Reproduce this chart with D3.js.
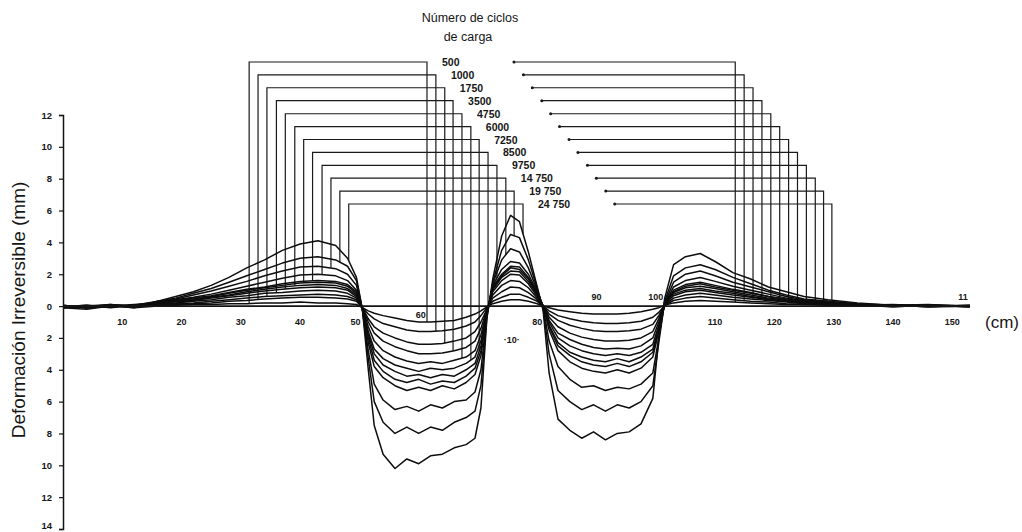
<!DOCTYPE html>
<html>
<head>
<meta charset="utf-8">
<script src="https://cdn.jsdelivr.net/npm/d3@7"></script>
<style>
  body { margin: 0; background: #fff; }
  text { font-family: "Liberation Sans", Arial, sans-serif; fill: #161616; }
  .tick-label { font-weight: bold; font-size: 9px; }
  .cycle-label { font-weight: bold; font-size: 10.5px; }
</style>
</head>
<body>
<svg id="chart" width="1022" height="532"></svg>
<script>
// number of load cycles, one profile each
const cycles = ["500", "1000", "1750", "3500", "4750", "6000", "7250", "8500", "9750", "14 750", "19 750", "24 750"];

// transverse position across the track (cm) where profiles were read
const positions = [0, 4, 8, 12, 16, 19, 22, 25, 28, 31,
  34, 37, 40, 43, 46, 48, 49.5, 50.5, 51.5, 52.5,
  54, 56, 58, 60, 62, 64, 66, 68, 69.5, 70.5,
  71.5, 72.5, 74, 75.5, 77, 78.5, 80, 81, 82, 83.5,
  85.5, 87.5, 89.5, 91.5, 93.5, 95.5, 97.5, 99.5, 100.5, 101.5,
  103, 105, 107.5, 110, 113, 116, 119, 122, 125, 129,
  134, 140, 146, 153];

// irreversible deformation (mm), + heave / - rut, one row per cycle count
const profiles = [
  // 500
  [0.0, -0.1, 0.05, -0.1, 0.0, 0.05, 0.1, 0.1, 0.15, 0.15,
   0.2, 0.2, 0.25, 0.2, 0.2, 0.15, 0.1, -0.1, -0.3, -0.45,
   -0.6, -0.75, -0.9, -1.0, -1.0, -0.95, -0.9, -0.7, -0.5, -0.3,
   -0.05, 0.15, 0.3, 0.4, 0.4, 0.3, 0.15, 0.0, -0.1, -0.25,
   -0.35, -0.45, -0.5, -0.5, -0.5, -0.45, -0.35, -0.2, -0.1, 0.05,
   0.2, 0.3, 0.35, 0.3, 0.25, 0.2, 0.15, 0.1, 0.1, 0.05,
   0.0, 0.05, -0.05, 0.0],
  // 1000
  [-0.1, 0.0, -0.05, 0.05, 0.05, 0.1, 0.15, 0.2, 0.3, 0.35,
   0.45, 0.5, 0.55, 0.55, 0.5, 0.45, 0.3, -0.1, -0.5, -0.8,
   -1.1, -1.3, -1.5, -1.6, -1.6, -1.55, -1.45, -1.25, -1.0, -0.6,
   -0.1, 0.3, 0.55, 0.75, 0.75, 0.55, 0.3, 0.0, -0.3, -0.6,
   -0.8, -0.95, -1.05, -1.1, -1.1, -1.05, -0.95, -0.7, -0.4, 0.05,
   0.35, 0.5, 0.6, 0.5, 0.4, 0.3, 0.25, 0.15, 0.1, 0.1,
   0.05, 0.0, 0.05, -0.05],
  // 1750
  [0.0, -0.1, 0.05, 0.0, 0.1, 0.15, 0.2, 0.3, 0.4, 0.5,
   0.6, 0.65, 0.7, 0.75, 0.7, 0.6, 0.4, -0.1, -0.8, -1.3,
   -1.7, -2.0, -2.25, -2.4, -2.4, -2.35, -2.2, -2.0, -1.6, -1.0,
   -0.2, 0.5, 0.9, 1.2, 1.15, 0.85, 0.4, 0.0, -0.5, -0.9,
   -1.2, -1.4, -1.55, -1.6, -1.6, -1.55, -1.45, -1.15, -0.6, 0.05,
   0.5, 0.7, 0.8, 0.7, 0.55, 0.45, 0.35, 0.25, 0.15, 0.1,
   0.05, -0.05, 0.05, 0.0],
  // 3500
  [-0.05, 0.05, -0.1, 0.05, 0.15, 0.2, 0.3, 0.4, 0.55, 0.65,
   0.8, 0.85, 0.95, 1.0, 0.95, 0.8, 0.5, -0.1, -1.0, -1.7,
   -2.2, -2.55, -2.8, -3.0, -3.0, -2.95, -2.8, -2.6, -2.2, -1.4,
   -0.2, 0.7, 1.3, 1.6, 1.55, 1.15, 0.5, 0.0, -0.7, -1.3,
   -1.7, -1.95, -2.1, -2.2, -2.2, -2.15, -2.0, -1.6, -0.8, 0.1,
   0.65, 0.9, 1.0, 0.85, 0.7, 0.55, 0.4, 0.3, 0.2, 0.15,
   0.05, 0.05, -0.05, 0.0],
  // 4750
  [0.0, -0.05, 0.05, 0.0, 0.2, 0.25, 0.35, 0.5, 0.65, 0.8,
   0.95, 1.05, 1.15, 1.2, 1.15, 1.0, 0.6, -0.1, -1.3, -2.2,
   -2.8, -3.2, -3.45, -3.6, -3.5, -3.6, -3.4, -3.2, -2.8, -1.8,
   -0.3, 0.9, 1.6, 2.0, 1.95, 1.4, 0.6, 0.0, -0.9, -1.7,
   -2.1, -2.4, -2.6, -2.7, -2.65, -2.7, -2.5, -2.0, -1.0, 0.1,
   0.75, 1.0, 1.1, 0.95, 0.8, 0.6, 0.45, 0.3, 0.2, 0.15,
   0.1, 0.0, 0.05, -0.05],
  // 6000
  [-0.1, 0.0, 0.1, -0.05, 0.2, 0.3, 0.4, 0.55, 0.7, 0.9,
   1.05, 1.2, 1.3, 1.35, 1.3, 1.1, 0.7, -0.1, -1.6, -2.7,
   -3.3, -3.7, -3.9, -4.1, -3.9, -4.0, -3.9, -3.6, -3.2, -2.2,
   -0.3, 1.0, 1.8, 2.2, 2.15, 1.55, 0.7, 0.0, -1.0, -2.0,
   -2.5, -2.8, -3.0, -3.1, -3.0, -3.1, -2.9, -2.4, -1.2, 0.1,
   0.85, 1.15, 1.25, 1.1, 0.9, 0.7, 0.5, 0.35, 0.25, 0.15,
   0.05, 0.1, 0.0, 0.05],
  // 7250
  [0.05, -0.1, 0.0, 0.1, 0.2, 0.3, 0.45, 0.6, 0.8, 1.0,
   1.15, 1.3, 1.45, 1.5, 1.45, 1.25, 0.8, -0.1, -1.8, -3.0,
   -3.7, -4.1, -4.4, -4.3, -4.5, -4.3, -4.4, -4.0, -3.6, -2.5,
   -0.4, 1.1, 1.9, 2.4, 2.3, 1.7, 0.8, 0.0, -1.2, -2.3,
   -2.9, -3.2, -3.4, -3.5, -3.3, -3.5, -3.2, -2.7, -1.4, 0.1,
   0.9, 1.25, 1.4, 1.2, 1.0, 0.8, 0.6, 0.4, 0.25, 0.2,
   0.1, -0.05, 0.05, 0.0],
  // 8500
  [-0.05, 0.05, -0.05, 0.05, 0.25, 0.35, 0.5, 0.65, 0.85, 1.05,
   1.2, 1.4, 1.55, 1.6, 1.55, 1.35, 0.9, -0.2, -2.0, -3.4,
   -4.1, -4.6, -4.8, -4.6, -4.9, -4.7, -4.8, -4.4, -3.9, -2.8,
   -0.4, 1.2, 2.0, 2.5, 2.45, 1.8, 0.85, 0.0, -1.3, -2.5,
   -3.1, -3.5, -3.7, -3.8, -3.6, -3.8, -3.5, -2.9, -1.5, 0.15,
   1.0, 1.35, 1.5, 1.3, 1.05, 0.85, 0.6, 0.45, 0.3, 0.2,
   0.05, 0.05, -0.05, 0.05],
  // 9750
  [0.0, -0.05, 0.1, 0.0, 0.25, 0.4, 0.55, 0.75, 1.0, 1.25,
   1.5, 1.75, 1.95, 2.0, 1.9, 1.6, 1.0, -0.2, -2.3, -3.8,
   -4.5, -5.0, -5.3, -5.1, -5.3, -5.0, -5.2, -4.8, -4.3, -3.1,
   -0.5, 1.3, 2.3, 2.8, 2.7, 2.0, 0.9, 0.0, -1.5, -2.8,
   -3.5, -3.9, -4.1, -4.2, -4.0, -4.2, -3.9, -3.2, -1.6, 0.15,
   1.2, 1.6, 1.8, 1.55, 1.25, 1.0, 0.75, 0.5, 0.35, 0.25,
   0.1, 0.0, 0.05, 0.0],
  // 14 750
  [-0.1, 0.0, -0.05, 0.05, 0.3, 0.45, 0.7, 0.95, 1.25, 1.55,
   1.9, 2.2, 2.45, 2.5, 2.35, 2.0, 1.3, -0.2, -2.8, -4.9,
   -5.9, -6.5, -6.3, -6.6, -6.2, -6.4, -6.0, -5.9, -5.4, -4.0,
   -0.6, 1.4, 2.9, 3.6, 3.4, 2.4, 1.0, -0.1, -2.2, -3.8,
   -4.6, -5.1, -5.0, -5.3, -5.1, -5.2, -4.9, -4.2, -2.0, 0.2,
   1.5, 2.0, 2.2, 1.9, 1.5, 1.2, 0.9, 0.6, 0.4, 0.3,
   0.1, 0.05, 0.0, -0.05],
  // 19 750
  [0.05, -0.1, 0.0, -0.05, 0.3, 0.5, 0.8, 1.1, 1.5, 1.9,
   2.3, 2.7, 3.0, 3.1, 2.9, 2.5, 1.6, -0.2, -3.3, -6.0,
   -7.3, -8.0, -7.6, -8.0, -7.6, -7.8, -7.3, -7.0, -6.6, -5.0,
   -0.7, 1.5, 3.5, 4.5, 4.3, 2.9, 1.1, -0.2, -3.0, -5.3,
   -6.0, -6.5, -6.2, -6.6, -6.2, -6.4, -6.0, -5.0, -2.3, 0.3,
   1.9, 2.4, 2.6, 2.3, 1.8, 1.4, 1.0, 0.7, 0.45, 0.3,
   0.15, 0.05, 0.05, 0.0],
  // 24 750
  [-0.1, -0.2, 0.0, -0.1, 0.3, 0.6, 0.9, 1.3, 1.8, 2.4,
   2.9, 3.5, 3.9, 4.1, 3.8, 3.0, 1.8, -0.2, -4.0, -7.5,
   -9.3, -10.2, -9.6, -9.9, -9.4, -9.3, -8.9, -8.7, -8.3, -6.4,
   -0.8, 1.7, 4.4, 5.7, 5.3, 3.4, 1.2, -0.3, -4.2, -7.1,
   -7.8, -8.3, -7.9, -8.4, -8.0, -7.9, -7.4, -5.8, -2.0, 0.5,
   2.6, 3.1, 3.3, 2.8, 2.1, 1.7, 1.2, 0.9, 0.6, 0.4,
   0.2, 0.05, 0.1, -0.05]
];

// leader lines from each label down to its profile (cm / mm)
const leaderLevel = [15.33, 14.52, 13.71, 12.9, 12.08, 11.27, 10.46, 9.65, 8.84, 8.03, 7.22, 6.41];
const leaderLeft = [31.4, 32.9, 34.4, 36.0, 37.5, 39.1, 40.6, 42.1, 43.7, 45.2, 46.7, 48.2];
const leaderMid = [61.4, 62.9, 64.4, 65.8, 67.3, 68.8, 70.2, 71.7, 73.2, 74.7, 76.1, 77.6];
const leaderStart = [75.9, 77.5, 79.0, 80.6, 82.1, 83.6, 85.2, 86.7, 88.3, 89.8, 91.4, 92.9];
const leaderRight = [113.4, 114.9, 116.4, 117.9, 119.4, 120.9, 122.4, 123.9, 125.4, 126.9, 128.3, 129.7];

// axis ticks
const yTicks = [-14, -12, -10, -8, -6, -4, -2, 0, 2, 4, 6, 8, 10, 12];
const xTicks = [10, 20, 30, 40, 50, 60, 80, 90, 100, 110, 120, 130, 140, 150];
const xTicksAbove = [90, 100]; // these two sit over the line in the original

const svg = d3.select("#chart");

const x = d3.scaleLinear().domain([0, 153]).range([63, 970]);
const y = d3.scaleLinear().domain([-14, 12]).range([529, 115]);

// reading a profile between two samples, only used to end the leader lines on the curve
function valueAt(profile, cm) {
  let i = d3.bisectLeft(positions, cm);
  if (i <= 0) return profile[0];
  if (i >= positions.length) return profile[profile.length - 1];
  let t = (cm - positions[i - 1]) / (positions[i] - positions[i - 1]);
  return profile[i - 1] + t * (profile[i] - profile[i - 1]);
}

//leaders first so curves sit on top
let leaders = svg.append("g")
  .attr("fill", "none")
  .attr("stroke", "#1a1a1a")
  .attr("stroke-width", 1.2);

cycles.forEach((c, i) => {
  let p = profiles[i];
  leaders.append("path")
    .attr("d", `M${x(leaderLeft[i])},${y(valueAt(p, leaderLeft[i]))}`
      + `V${y(leaderLevel[i])}H${x(leaderMid[i])}V${y(valueAt(p, leaderMid[i]))}`);

  leaders.append("path")
    .attr("d", `M${x(leaderStart[i])},${y(leaderLevel[i])}`
      + `H${x(leaderRight[i])}V${y(valueAt(p, leaderRight[i]))}`);

  // little arrow end on the right leader
  svg.append("circle")
    .attr("cx", x(leaderStart[i]) + 1)
    .attr("cy", y(leaderLevel[i]))
    .attr("r", 1.5)
    .attr("fill", "#1a1a1a");

  svg.append("text")
    .attr("class", "cycle-label")
    .attr("x", x(leaderMid[i]) + 15)
    .attr("y", y(leaderLevel[i]) + 4)
    .text(c);
});

//the profiles
let line = d3.line()
  .x((d, i) => x(positions[i]))
  .y(d => y(d));

svg.append("g")
  .selectAll("path")
  .data(profiles)
  .join("path")
    .attr("d", line)
    .attr("fill", "none")
    .attr("stroke", "#0d0d0d")
    .attr("stroke-width", 1.5)
    .attr("stroke-linejoin", "round");

//zero line
svg.append("line")
  .attr("x1", x(0))
  .attr("x2", x(153))
  .attr("y1", y(0))
  .attr("y2", y(0))
  .attr("stroke", "#141414")
  .attr("stroke-width", 1.8);

//y axis
let yAxis = svg.append("g")
  .attr("transform", `translate(${x(0)},0)`)
  .call(d3.axisLeft(y).tickValues(yTicks).tickFormat(d => Math.abs(d)).tickSize(4).tickPadding(7));

yAxis.select(".domain").attr("stroke", "#141414").attr("stroke-width", 1.5);
yAxis.selectAll(".tick line").attr("stroke", "#141414").attr("stroke-width", 1.2);
yAxis.selectAll(".tick text")
  .attr("class", "tick-label")
  .style("font-size", "9.5px")
  .attr("fill", "#161616")
  // bottom label sits on the page edge, lift it a touch so it stays whole
  .attr("dy", d => d === -14 ? "-0.1em" : "0.32em");

//x labels, hand placed like the original
svg.append("g")
  .selectAll("text")
  .data(xTicks)
  .join("text")
    .attr("class", "tick-label")
    .attr("text-anchor", "middle")
    .attr("x", d => x(d) + (d === 50 ? -4 : d === 60 ? 2 : 0))
    .attr("y", d => xTicksAbove.includes(d) ? y(0) - 6 : (d === 60 ? y(0) + 12 : y(0) + 19))
    .text(d => d);

svg.append("text")
  .attr("class", "tick-label")
  .attr("text-anchor", "middle")
  .attr("x", x(75.7))
  .attr("y", y(0) + 37)
  .text("·10·");

svg.append("text")
  .attr("class", "tick-label")
  .attr("text-anchor", "middle")
  .attr("x", x(151.8))
  .attr("y", y(0) - 6)
  .text("11");

svg.append("text")
  .attr("x", 985)
  .attr("y", y(0) + 22)
  .style("font-size", "17px")
  .text("(cm)");

//axis title
svg.append("text")
  .attr("transform", "translate(25,310) rotate(-90)")
  .attr("text-anchor", "middle")
  .style("font-size", "19px")
  .text("Deformación Irreversible (mm)");

//legend title
svg.append("text")
  .attr("x", 470)
  .attr("y", 22)
  .attr("text-anchor", "middle")
  .style("font-size", "12.5px")
  .text("Número de ciclos");

svg.append("text")
  .attr("x", 468)
  .attr("y", 41)
  .attr("text-anchor", "middle")
  .style("font-size", "12.5px")
  .text("de carga");
</script>
</body>
</html>
